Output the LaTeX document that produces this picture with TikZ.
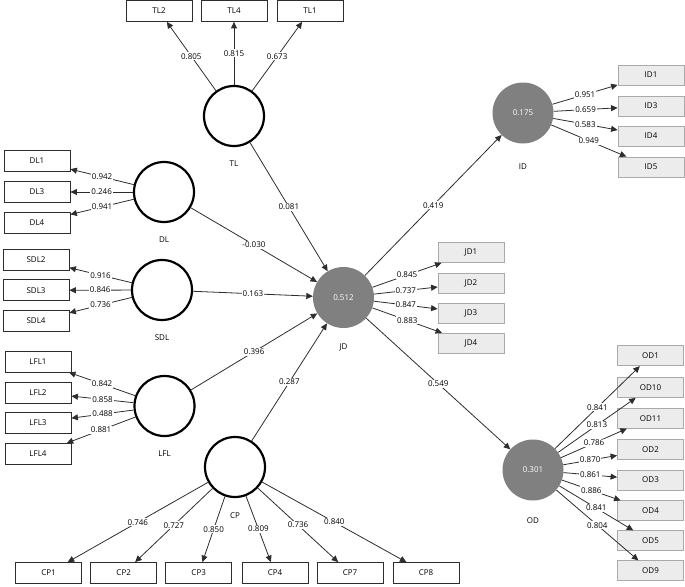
\documentclass[tikz,border=0pt]{standalone}
\usepackage{fontspec}
\setmainfont{Open Sans}
\usetikzlibrary{arrows.meta}
\definecolor{lvgray}{RGB}{128,128,128}
\definecolor{boxgray}{RGB}{236,236,236}
\definecolor{boxedge}{RGB}{170,170,170}
\definecolor{lineC}{RGB}{45,45,45}
\tikzset{
  every node/.style={font=\fontsize{8}{9.5}\selectfont},
  ind/.style={draw=lineC, line width=0.8pt, fill=white, minimum width=66pt, minimum height=21pt, inner sep=0pt},
  indg/.style={draw=boxedge, line width=0.8pt, fill=boxgray, minimum width=66pt, minimum height=20pt, inner sep=0pt},
  lvw/.style={circle, draw=black, line width=2.2pt, fill=white, minimum size=60pt, inner sep=0pt},
  lvg/.style={circle, fill=lvgray, minimum size=61pt, inner sep=0pt, text=white},
  lvlab/.style={label={[label distance=#1]below:\lvname}},
  arr/.style={draw=lineC, line width=0.8pt, -{Triangle[length=6.5pt,width=6pt]}},
  lbl/.style={fill=white, inner sep=1pt, pos=0.5}
}
\begin{document}
\begin{tikzpicture}[x=1pt,y=-1pt]
\useasboundingbox (0,0) rectangle (685,586);
% latent variables
\node[lvw, label={[label distance=10pt]below:TL}] (TL) at (234,116) {};
\node[lvw, label={[label distance=10pt]below:DL}] (DL) at (164,192) {};
\node[lvw, label={[label distance=10pt]below:SDL}] (SDL) at (162,290) {};
\node[lvw, label={[label distance=10pt]below:LFL}] (LFL) at (164.5,406) {};
\node[lvw, label={[label distance=11pt]below:CP}] (CP) at (235,467) {};
\node[lvg, label={[label distance=12pt]below:JD}] (JD) at (343.5,297.5) {0.512};
\node[lvg, label={[label distance=17pt]below:ID}] (ID) at (523,113) {0.175};
\node[lvg, label={[label distance=13pt]below:OD}] (OD) at (533,470) {0.301};
% indicators TL
\node[ind] (TL2) at (159,11) {TL2};
\node[ind] (TL4) at (234,11) {TL4};
\node[ind] (TL1) at (310,11) {TL1};
% DL
\node[ind] (DL1) at (37,161) {DL1};
\node[ind] (DL3) at (37,192) {DL3};
\node[ind] (DL4) at (37,222.5) {DL4};
% SDL
\node[ind] (SDL2) at (36,259.7) {SDL2};
\node[ind] (SDL3) at (36,290.3) {SDL3};
\node[ind] (SDL4) at (36,321) {SDL4};
% LFL
\node[ind] (LFL1) at (38,361.5) {LFL1};
\node[ind] (LFL2) at (38,392.5) {LFL2};
\node[ind] (LFL3) at (38,422.5) {LFL3};
\node[ind] (LFL4) at (38,454) {LFL4};
% CP
\node[ind] (CP1) at (48.5,573) {CP1};
\node[ind] (CP2) at (123.7,573) {CP2};
\node[ind] (CP3) at (198.7,573) {CP3};
\node[ind] (CP4) at (275,573) {CP4};
\node[ind] (CP7) at (350,573) {CP7};
\node[ind] (CP8) at (426,573) {CP8};
% ID
\node[indg] (ID1) at (651,75) {ID1};
\node[indg] (ID3) at (651,106) {ID3};
\node[indg] (ID4) at (651,136) {ID4};
\node[indg] (ID5) at (651,167) {ID5};
% JD
\node[indg] (JD1) at (471,252.5) {JD1};
\node[indg] (JD2) at (471,283.3) {JD2};
\node[indg] (JD3) at (471,313) {JD3};
\node[indg] (JD4) at (471,343.3) {JD4};
% OD
\node[indg] (OD1) at (650.5,355.8) {OD1};
\node[indg] (OD10) at (650.5,387.5) {OD10};
\node[indg] (OD11) at (650.5,418.2) {OD11};
\node[indg] (OD2) at (650.5,449.7) {OD2};
\node[indg] (OD3) at (650.5,480) {OD3};
\node[indg] (OD4) at (650.5,510.8) {OD4};
\node[indg] (OD5) at (650.5,540.8) {OD5};
\node[indg] (OD9) at (650.5,570.8) {OD9};
% loadings
\draw[arr] (TL) -- node[lbl]{0.805} (TL2);
\draw[arr] (TL) -- node[lbl]{0.815} (TL4);
\draw[arr] (TL) -- node[lbl]{0.673} (TL1);
\draw[arr] (DL) -- node[lbl]{0.942} (DL1);
\draw[arr] (DL) -- node[lbl]{0.246} (DL3);
\draw[arr] (DL) -- node[lbl]{0.941} (DL4);
\draw[arr] (SDL) -- node[lbl]{0.916} (SDL2);
\draw[arr] (SDL) -- node[lbl]{0.846} (SDL3);
\draw[arr] (SDL) -- node[lbl]{0.736} (SDL4);
\draw[arr] (LFL) -- node[lbl]{0.842} (LFL1);
\draw[arr] (LFL) -- node[lbl]{0.858} (LFL2);
\draw[arr] (LFL) -- node[lbl]{0.488} (LFL3);
\draw[arr] (LFL) -- node[lbl]{0.881} (LFL4);
\draw[arr] (CP) -- node[lbl]{0.746} (CP1);
\draw[arr] (CP) -- node[lbl]{0.727} (CP2);
\draw[arr] (CP) -- node[lbl]{0.850} (CP3);
\draw[arr] (CP) -- node[lbl]{0.809} (CP4);
\draw[arr] (CP) -- node[lbl]{0.736} (CP7);
\draw[arr] (CP) -- node[lbl]{0.840} (CP8);
\draw[arr] (ID) -- node[lbl]{0.951} (ID1);
\draw[arr] (ID) -- node[lbl]{0.659} (ID3);
\draw[arr] (ID) -- node[lbl]{0.583} (ID4);
\draw[arr] (ID) -- node[lbl]{0.949} (ID5);
\draw[arr] (JD) -- node[lbl]{0.845} (JD1);
\draw[arr] (JD) -- node[lbl]{0.737} (JD2);
\draw[arr] (JD) -- node[lbl]{0.847} (JD3);
\draw[arr] (JD) -- node[lbl]{0.883} (JD4);
\draw[arr] (OD) -- node[lbl]{0.841} (OD1);
\draw[arr] (OD) -- node[lbl]{0.813} (OD10);
\draw[arr] (OD) -- node[lbl]{0.786} (OD11);
\draw[arr] (OD) -- node[lbl]{0.870} (OD2);
\draw[arr] (OD) -- node[lbl]{0.861} (OD3);
\draw[arr] (OD) -- node[lbl]{0.886} (OD4);
\draw[arr] (OD) -- node[lbl]{0.841} (OD5);
\draw[arr] (OD) -- node[lbl]{0.804} (OD9);
% structural paths
\draw[arr] (TL) -- node[lbl]{0.081} (JD);
\draw[arr] (DL) -- node[lbl]{-0.030} (JD);
\draw[arr] (SDL) -- node[lbl]{0.163} (JD);
\draw[arr] (LFL) -- node[lbl]{0.396} (JD);
\draw[arr] (CP) -- node[lbl]{0.287} (JD);
\draw[arr] (JD) -- node[lbl]{0.419} (ID);
\draw[arr] (JD) -- node[lbl]{0.549} (OD);
\end{tikzpicture}
\end{document}
